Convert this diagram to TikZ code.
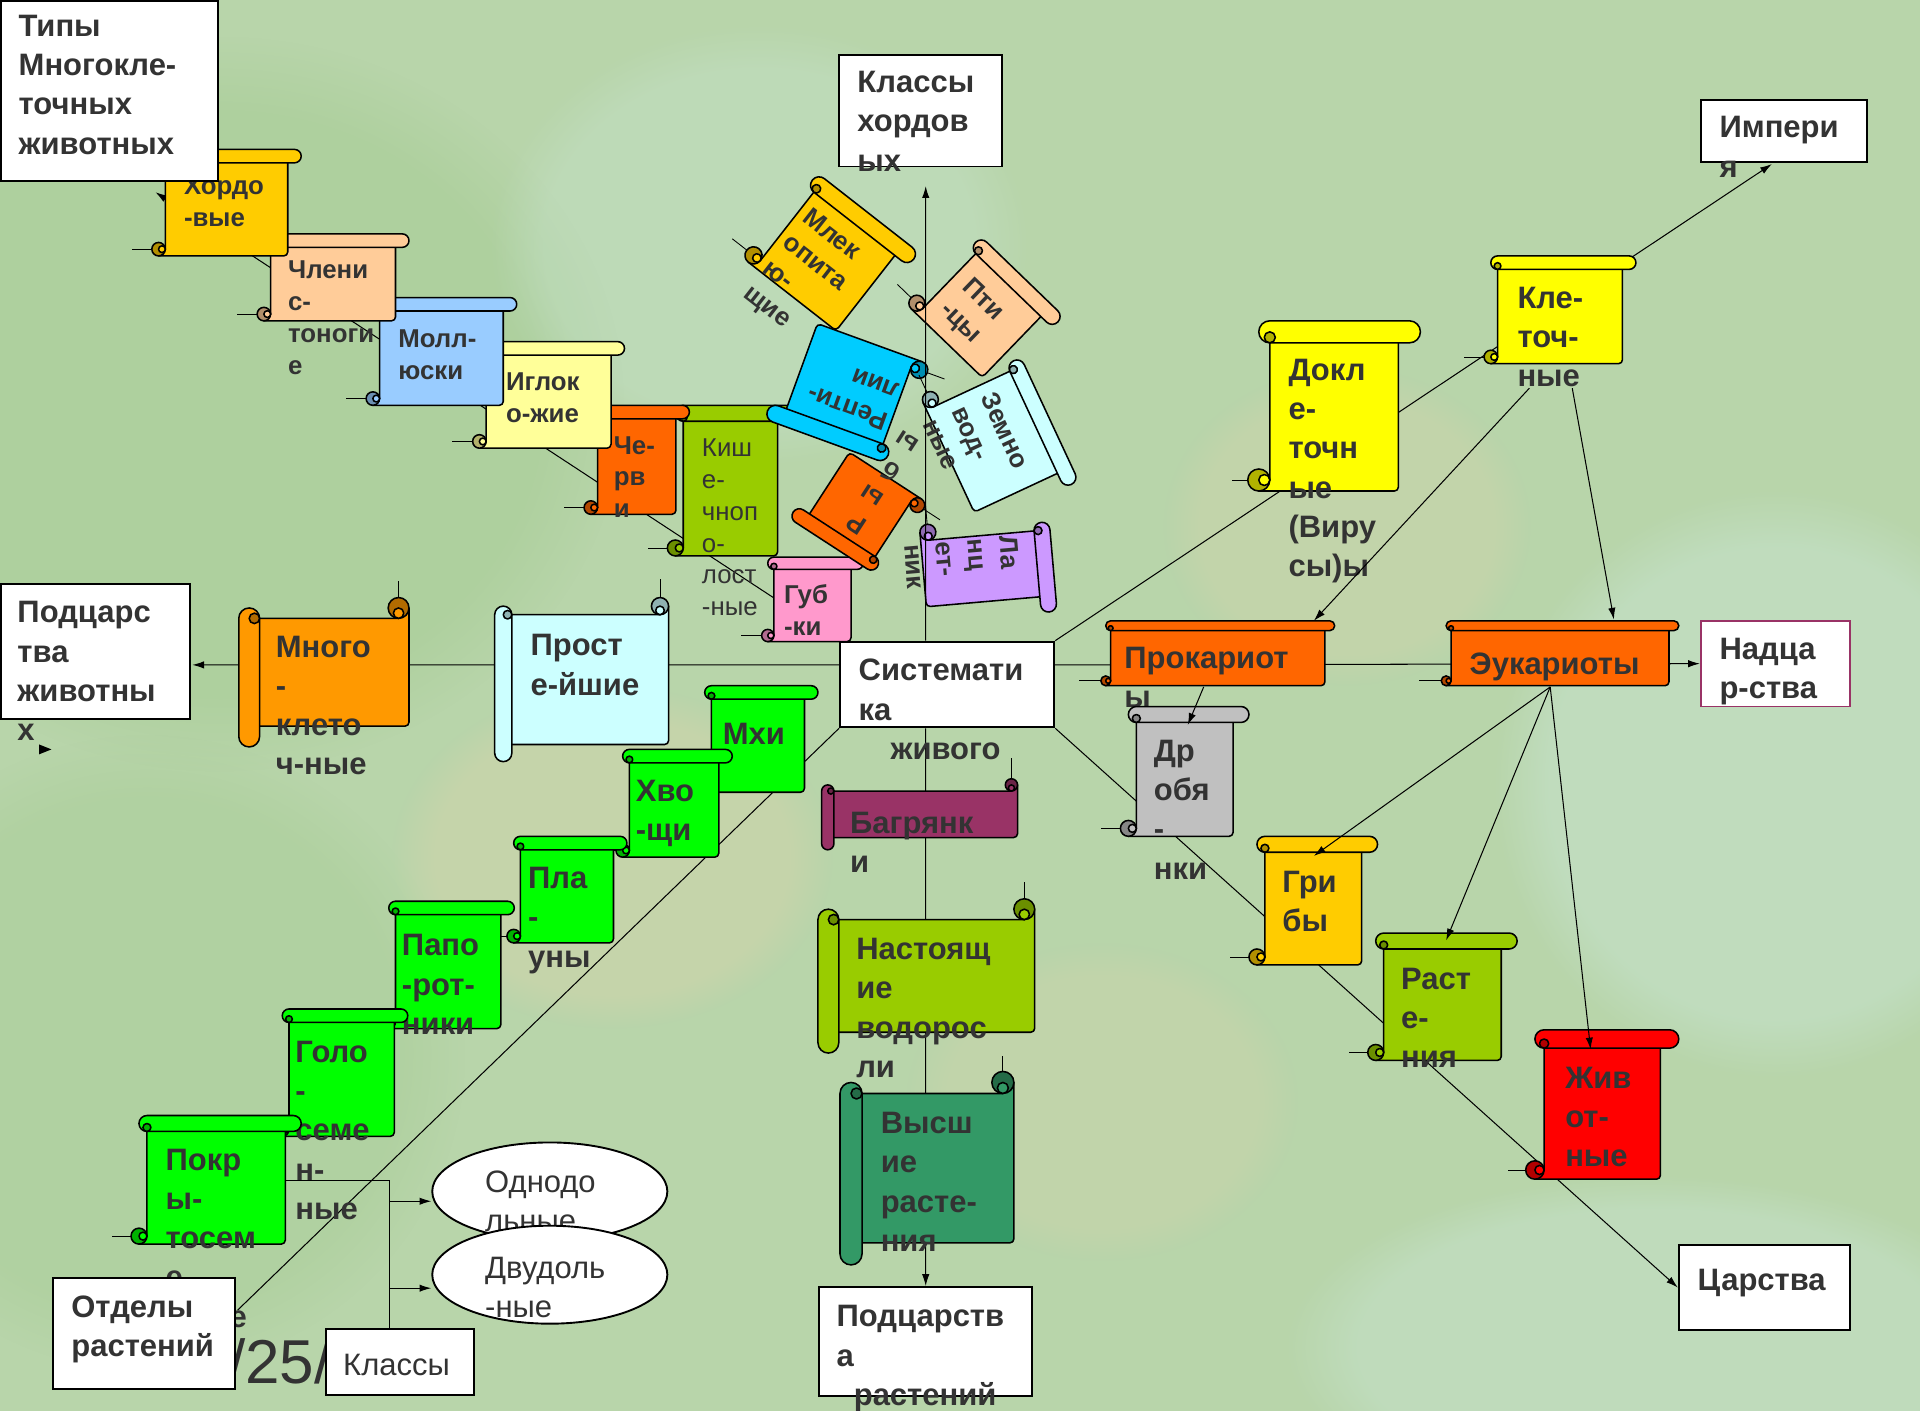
\documentclass[tikz,border=0pt]{standalone}
\usepackage{fontspec}
\setmainfont{Liberation Sans}
\usetikzlibrary{shapes.geometric, arrows.meta, fadings}

\definecolor{txtc}{RGB}{51,51,51}
\definecolor{bgbase}{RGB}{184,213,170}
\definecolor{bgmint}{RGB}{202,230,214}
\definecolor{bgbeige}{RGB}{214,212,172}
\definecolor{bgdeep}{RGB}{166,204,148}
\definecolor{cHord}{HTML}{FFCC00}
\definecolor{cChlen}{HTML}{FFCC99}
\definecolor{cMoll}{HTML}{99CCFF}
\definecolor{cIgl}{HTML}{FFFF99}
\definecolor{cCherv}{HTML}{FF6600}
\definecolor{cKish}{HTML}{99CC00}
\definecolor{cGub}{HTML}{FF99CC}
\definecolor{cRept}{HTML}{00CCFF}
\definecolor{cZem}{HTML}{CCFFFF}
\definecolor{cLanc}{HTML}{CC99FF}
\definecolor{cPlant}{HTML}{00FF00}
\definecolor{cDrob}{HTML}{C0C0C0}
\definecolor{cZhiv}{HTML}{FF0000}
\definecolor{cYel}{HTML}{FFFF00}
\definecolor{cMnogo}{HTML}{FF9900}
\definecolor{cBagr}{HTML}{993366}
\definecolor{cVys}{HTML}{339966}
\definecolor{cNadz}{HTML}{993366}

\pgfdeclarelayer{bg}
\pgfdeclarelayer{lines}
\pgfdeclarelayer{front}
\pgfsetlayers{bg,lines,main,front}

\newcommand{\fbig}{\fontsize{18}{22.8}\selectfont\bfseries}
\newcommand{\fbigr}{\fontsize{18}{22.8}\selectfont}
\newcommand{\fsm}{\fontsize{15}{18.5}\selectfont\bfseries}
\newcommand{\fsmr}{\fontsize{15}{18.5}\selectfont}

% horizontal scroll: fill, x0, y0, x1, y1, roll
\newcommand{\hscroll}[6]{%
  \draw[tail] ({#2+#6/2},{#5-#6/2}) -- ++(-22,0);
  \filldraw[scroll, fill=#1] ({#2+#6/2},#5) [rounded corners=0.8mm] -- ({#4-#6},#5) -- ({#4-#6},{#3+#6/2}) [sharp corners] -- ({#2+#6},{#3+#6/2}) -- ({#2+#6},{#5-#6/2}) -- cycle;
  \filldraw[scroll, fill=#1!70!black] ({#2+#6/2},{#5-#6/2}) circle[radius=#6/2];
  \filldraw[scroll, fill=#1] ({#2+#6*0.75},{#5-#6/2}) circle[radius=#6/4];
  \filldraw[scroll, fill=#1] ({#2+#6},#3) -- ({#4-#6/2},#3) arc[start angle=-90, end angle=90, radius=#6/2] -- ({#2+#6},{#3+#6}) arc[start angle=90, end angle=270, radius=#6/2] -- cycle;
  \filldraw[scroll, fill=#1!70!black] ({#2+#6},{#3+#6*0.75}) circle[radius=#6/4];
}
% vertical scroll: fill, x0, y0, x1, y1, roll
\newcommand{\vscroll}[6]{%
  \draw[tail] ({#4-#6/2},{#3+#6/2}) -- ++(0,-22);
  \filldraw[scroll, fill=#1] (#4,{#3+#6/2}) [rounded corners=0.8mm] -- (#4,{#5-#6}) -- ({#2+#6/2},{#5-#6}) [sharp corners] -- ({#2+#6/2},{#3+#6}) -- ({#4-#6/2},{#3+#6}) -- cycle;
  \filldraw[scroll, fill=#1!70!black] ({#4-#6/2},{#3+#6/2}) circle[radius=#6/2];
  \filldraw[scroll, fill=#1] ({#4-#6/2},{#3+#6*0.75}) circle[radius=#6/4];
  \filldraw[scroll, fill=#1] (#2,{#3+#6}) -- (#2,{#5-#6/2}) arc[start angle=180, end angle=0, radius=#6/2] -- ({#2+#6},{#3+#6}) arc[start angle=0, end angle=-180, radius=#6/2] -- cycle;
  \filldraw[scroll, fill=#1!70!black] ({#2+#6*0.75},{#3+#6}) circle[radius=#6/4];
}
% white box: style, name, x0, y0, x1, y1
\newcommand{\tbox}[6][]{%
  \node[box, #1, minimum width={(#5-#3)*0.25mm}, minimum height={(#6-#4)*0.25mm}] (#2) at ({(#3+#5)/2},{(#4+#6)/2}) {};
}

\begin{document}
\begin{tikzpicture}[x=0.25mm, y=-0.25mm, >={Latex[length=2.4mm,width=1.5mm]},
    scroll/.style={draw=black, line width=0.9pt, line join=round},
    tail/.style={draw=black, line width=0.5pt},
    box/.style={draw=black, fill=white, line width=1.1pt, inner sep=0pt},
    ell/.style={ellipse, draw=black, fill=white, line width=1.1pt, inner sep=0pt},
    conn/.style={draw=black, line width=0.6pt},
    lbl/.style={anchor=north west, inner sep=0pt, yshift=-1mm, align=left, text=txtc, font=\fbig, execute at begin node=\strut},
    lblr/.style={lbl, font=\fbigr},
    lblsm/.style={lbl, font=\fsm},
    lblsmr/.style={lbl, font=\fsmr}]

\useasboundingbox (0,0) rectangle (1568,1152);

% background
\begin{pgfonlayer}{bg}
  \fill[bgbase] (0,0) rectangle (1568,1152);
  \fill[bgdeep, path fading=circle with fuzzy edge 20 percent, opacity=0.5] (180,330) ellipse[x radius=330, y radius=300];
  \fill[bgdeep, path fading=circle with fuzzy edge 20 percent, opacity=0.4] (120,860) ellipse[x radius=260, y radius=260];
  \fill[bgmint, path fading=circle with fuzzy edge 20 percent, opacity=0.45] (1450,640) ellipse[x radius=230, y radius=240];
  \fill[bgmint, path fading=circle with fuzzy edge 20 percent, opacity=0.4] (1350,1100) ellipse[x radius=300, y radius=140];
  \fill[bgmint, path fading=circle with fuzzy edge 20 percent, opacity=0.3] (620,200) ellipse[x radius=220, y radius=180];
  \fill[bgbeige, path fading=circle with fuzzy edge 20 percent, opacity=0.45] (500,700) ellipse[x radius=180, y radius=140];
  \fill[bgbeige, path fading=circle with fuzzy edge 20 percent, opacity=0.35] (1100,430) ellipse[x radius=150, y radius=130];
  \fill[bgbeige, path fading=circle with fuzzy edge 20 percent, opacity=0.3] (900,900) ellipse[x radius=160, y radius=130];
\end{pgfonlayer}

% boxes
\begin{pgfonlayer}{front}
  \tbox{types}{1}{1}{178}{148}
  \node[lbl] (types-t) at (15,8) {Типы\\Многокле-\\точных\\животных};
  \tbox{khord}{685}{45}{818}{136}
  \node[lbl] (khord-t) at (700,54) {Классы\\хордов\\ых};
  \tbox{imp}{1389}{82}{1525}{132}
  \node[lbl] (imp-t) at (1404,91) {Импери\\я};
  \tbox{podzh}{1}{477}{155}{587}
  \node[lbl] (podzh-t) at (14,487) {Подцарс\\тва\\животны\\х};
  \tbox{sys}{686}{524}{861}{594}
  \node[lbl] (sys-t) at (701,534) {Системати\\ка\\\hspace*{6.5mm}живого};
  \tbox[draw=cNadz]{nadz}{1389}{507}{1511}{577}
  \node[lbl] (nadz-t) at (1404,517) {Надца\\р-ства};
  \tbox{tsar}{1371}{1017}{1511}{1086}
  \node[lbl] (tsar-t) at (1386,1027) {Царства};
\end{pgfonlayer}

% slide number under the lower boxes
\begin{pgfonlayer}{lines}
  \node[anchor=base west, inner sep=0pt, text=txtc, font=\fontsize{36}{44}\selectfont] (pgnum) at (186,1130) {/25/};
\end{pgfonlayer}

\begin{pgfonlayer}{front}
  \tbox{otd}{43}{1044}{192}{1134}
  \node[lbl] (otd-t) at (58,1054) {Отделы\\растений};
  \tbox{klassy}{266}{1085}{387}{1139}
  \node[lblr] (klassy-t) at (280,1097) {Классы};
  \tbox{podr}{669}{1051}{843}{1140}
  \node[lbl] (podr-t) at (683,1062) {Подцарств\\а\\\hspace*{3.5mm}растений};
  \node[ell, minimum width=48mm, minimum height=20mm] (odno) at (449,973) {};
  \node[lblr] (odno-t) at (396,952) {Однодо\\льные};
  \node[ell, minimum width=48mm, minimum height=20mm] (dvu) at (449,1041) {};
  \node[lblr] (dvu-t) at (396,1022) {Двудоль\\-ные};
\end{pgfonlayer}

% free ends
\coordinate (types-in) at (127,157);
\coordinate (imp-in) at (1447,134);
\coordinate (otd-in) at (194,1070);
\coordinate (podzh-in) at (157,543);
\coordinate (axis-top) at (756,152);
\coordinate (kle-a) at (1249,317);
\coordinate (kle-b) at (1284,317);
\coordinate (pro-a) at (1073,507);
\coordinate (pro-b) at (983,561);
\coordinate (euk-a) at (1318,506);
\coordinate (euk-b) at (1266,561);
\coordinate (drob-a) at (970,592);
\coordinate (grib-a) at (1073,699);
\coordinate (rast-a) at (1181,768);
\coordinate (zhiv-a) at (1299,857);
\coordinate (pokr-a) at (233,964);
\coordinate (br-top) at (318,964);
\coordinate (br-1) at (318,981);
\coordinate (br-2) at (318,1052);

% connectors behind the scrolls
\begin{pgfonlayer}{lines}
  \draw[conn, ->] (sys.north west) -- (types-in);
  \draw[conn, ->] (sys.north east) -- (imp-in);
  \draw[conn, ->] (sys.south east) -- (tsar.west);
  \draw[conn] (sys.south west) -- (otd-in);
  \draw[conn, ->] ([yshift=4mm]sys.west) -- (podzh-in);
  \draw[conn, ->] ([yshift=4mm]sys.east) -- (nadz.west);
  \draw[conn, ->] ([xshift=-4.4mm]sys.south) -- (podr.north);
  \fill[black] (32,608) -- (42,612) -- (32,616) -- cycle;
\end{pgfonlayer}

% animal types
\hscroll{cGub}{622}{455}{705}{524}{10}
\node[lblsm] (gub) at (640,473) {Губ\\-ки};
\hscroll{cKish}{545}{331}{648}{454}{13}
\node[lblsmr] (kish) at (573,354) {Киш\\е-\\чноп\\о-\\лост\\-ные};
\hscroll{cCherv}{477}{331}{563}{420}{11}
\node[lblsm] (cherv) at (501,352) {Че-\\рв\\и};
\hscroll{cIgl}{386}{279}{510}{366}{11}
\node[lblsm] (igl) at (413,300) {Иглок\\о-жие};
\hscroll{cMoll}{299}{243}{422}{331}{11}
\node[lblsm] (moll) at (325,265) {Молл-\\юски};
\hscroll{cChlen}{210}{191}{334}{262}{11}
\node[lblsm] (chlen) at (235,209) {Члени\\с-\\тоноги\\е};
\hscroll{cHord}{124}{122}{246}{209}{11}
\node[lblsm] (hord) at (150,140) {Хордо\\-вые};

% chordate classes
\begin{scope}[shift={(678,208)}, rotate=-38]
  \hscroll{cHord}{-56}{-46}{56}{46}{14}
  \node[lblsm, transform shape] (mlek) at (-36,-26) {Млек\\опита\\ю-\\щие};
\end{scope}
\begin{scope}[shift={(804,253)}, rotate=-44]
  \hscroll{cChlen}{-50}{-41}{50}{41}{13}
  \node[lblsm, transform shape] (ptic) at (-26,-18) {Пти\\-цы};
\end{scope}
\begin{scope}[shift={(692,320)}, rotate=160]
  \hscroll{cRept}{-56}{-44}{56}{44}{14}
  \node[lblsm, transform shape] (rept) at (-39,-24) {Репти-\\лии};
\end{scope}
\begin{scope}[shift={(816,358)}, rotate=-65]
  \hscroll{cZem}{-59}{-44}{59}{44}{13}
  \node[lblsm, transform shape] (zem) at (-37,-19) {Земно\\вод-\\ные};
\end{scope}
\begin{scope}[shift={(701,417)}, rotate=147]
  \hscroll{cCherv}{-44}{-36}{44}{36}{12}
  \node[lblsm, transform shape] (ryb) at (-12,-22) {Р\\ы\\б\\ы};
\end{scope}
\begin{scope}[shift={(807,464)}, rotate=-85]
  \hscroll{cLanc}{-40}{-53}{40}{53}{13}
  \node[lblsm, transform shape] (lanc) at (-25,-30) {Ла\\нц\\ет-\\ник};
\end{scope}
\draw[conn, ->] ([xshift=-4.4mm]sys.north) -- (axis-top);

% animal subkingdoms
\vscroll{cMnogo}{195}{488}{334}{610}{17}
\node[lbl] (mnogo) at (225,515) {Много\\-\\клето\\ч-ные};
\vscroll{cZem}{404}{488}{546}{622}{14}
\node[lbl] (prost) at (433,514) {Прост\\е-йшие};

% plant divisions
\hscroll{cPlant}{570}{560}{668}{647}{11}
\node[lbl] (mhi) at (590,581) {Мхи};
\hscroll{cPlant}{503}{612}{598}{700}{11}
\node[lbl] (hvo) at (519,633) {Хво\\-щи};
\hscroll{cPlant}{414}{683}{512}{770}{11}
\node[lbl] (pla) at (431,704) {Пла\\-\\уны};
\hscroll{cPlant}{312}{736}{420}{840}{11}
\node[lbl] (papo) at (328,759) {Папо\\-рот-\\ники};
\hscroll{cPlant}{225}{824}{333}{928}{11}
\node[lbl] (golo) at (241,846) {Голо\\-\\семе\\н-\\ные};
\hscroll{cPlant}{107}{911}{246}{1016}{13}
\node[lbl] (pokr) at (135,934) {Покр\\ы-\\тосем\\е\\нные};

% plant subkingdoms
\vscroll{cBagr}{671}{636}{831}{694}{10}
\node[lbl] (bagr) at (694,659) {Багрянк\\и};
\vscroll{cKish}{668}{734}{845}{860}{17}
\node[lbl] (nast) at (699,762) {Настоящ\\ие\\водорос\\ли};
\vscroll{cVys}{686}{875}{828}{1033}{18}
\node[lbl] (vys) at (719,904) {Высш\\ие\\расте-\\ния};

% empires, superkingdoms, kingdoms
\hscroll{cYel}{1019}{262}{1160}{401}{18}
\node[lbl] (dokl) at (1052,289) {Докл\\е-\\точн\\ые\\(Виру\\сы)ы};
\hscroll{cYel}{1212}{209}{1336}{297}{11}
\node[lbl] (klet) at (1239,230) {Кле-\\точ-\\ные};
\hscroll{cCherv}{899}{507}{1090}{560}{8}
\node[lbl] (prok) at (918,524) {Прокариот\\ы};
\hscroll{cCherv}{1177}{507}{1371}{560}{8}
\node[lbl] (euk) at (1200,524) {Эукариоты};
\hscroll{cDrob}{915}{577}{1020}{683}{13}
\node[lbl] (drob) at (942,600) {Др\\обя\\-\\нки};
\hscroll{cHord}{1020}{683}{1125}{788}{13}
\node[lbl] (grib) at (1047,707) {Гри\\бы};
\hscroll{cKish}{1117}{762}{1239}{866}{13}
\node[lbl] (rast) at (1144,786) {Раст\\е-\\ния};
\hscroll{cZhiv}{1246}{841}{1371}{963}{15}
\node[lbl] (zhiv) at (1278,867) {Жив\\от-\\ные};

% arrows above the scrolls
\begin{pgfonlayer}{front}
  \draw[conn, ->] (kle-a) -- (pro-a);
  \draw[conn, ->] (kle-b) -- (euk-a);
  \draw[conn, ->] (pro-b) -- (drob-a);
  \draw[conn, ->] (euk-b) -- (grib-a);
  \draw[conn, ->] (euk-b) -- (rast-a);
  \draw[conn, ->] (euk-b) -- (zhiv-a);
  \draw[conn] (pokr-a) -- (br-top) -- (br-top |- klassy.north);
  \draw[conn, ->] (br-1) -- (br-1 -| odno.west);
  \draw[conn, ->] (br-2) -- (br-2 -| dvu.west);
\end{pgfonlayer}
\end{tikzpicture}
\end{document}
